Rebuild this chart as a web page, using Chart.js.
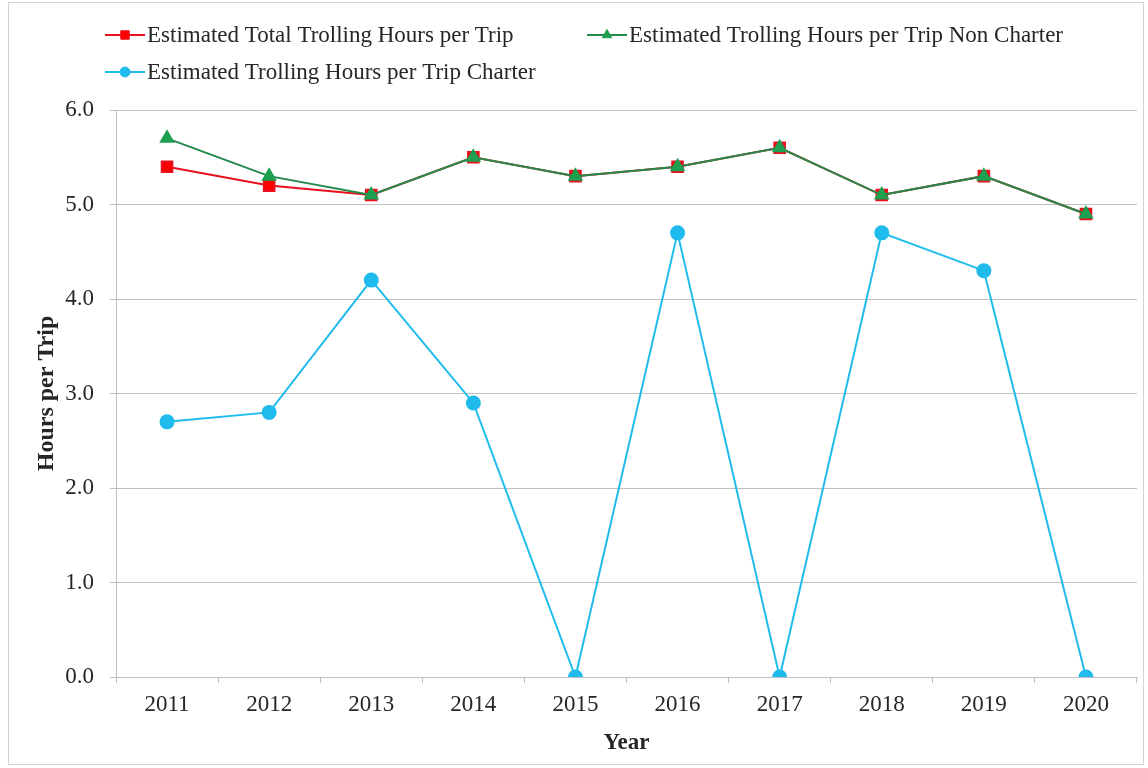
<!DOCTYPE html>
<html>
<head>
<meta charset="utf-8">
<script src="https://cdn.jsdelivr.net/npm/chart.js@4.4.1/dist/chart.umd.min.js"></script>
<style>
    html, body { margin: 0; padding: 0; background: #ffffff; }
    #chart { display: block; }
</style>
</head>
<body>
<canvas id="chart" width="1148" height="768"></canvas>
<script>
// values
const years = ['2011', '2012', '2013', '2014', '2015', '2016', '2017', '2018', '2019', '2020'];
const totalHours = [5.4, 5.2, 5.1, 5.5, 5.3, 5.4, 5.6, 5.1, 5.3, 4.9];
const nonCharterHours = [5.7, 5.3, 5.1, 5.5, 5.3, 5.4, 5.6, 5.1, 5.3, 4.9];
const charterHours = [2.7, 2.8, 4.2, 2.9, 0.0, 4.7, 0.0, 4.7, 4.3, 0.0];

const seriesNames = [
    'Estimated Total Trolling Hours per Trip',
    'Estimated Trolling Hours per Trip Non Charter',
    'Estimated Trolling Hours per Trip Charter'
];

const FONT = '"Liberation Serif", "Times New Roman", serif';

// legend laid out like the original: two columns, second row under the first item
const legendSpots = [
    { x: 105, y: 35 },
    { x: 587, y: 35 },
    { x: 105, y: 72 }
];

const legendAndFrame = {
    id: 'legendAndFrame',
    afterDraw(chart) {
        const ctx = chart.ctx;
        ctx.save();
        ctx.strokeStyle = '#d4d4d4';
        ctx.lineWidth = 1;
        ctx.strokeRect(8.5, 2.5, 1135, 762);

        chart.data.datasets.forEach((ds, i) => {
            const spot = legendSpots[i];
            ctx.strokeStyle = ds.borderColor;
            ctx.lineWidth = 2;
            ctx.beginPath();
            ctx.moveTo(spot.x, spot.y);
            ctx.lineTo(spot.x + 40, spot.y);
            ctx.stroke();
            ctx.fillStyle = ds.pointBackgroundColor;
            ctx.strokeStyle = ds.pointBorderColor;
            ctx.lineWidth = 1;
            Chart.helpers.drawPoint(ctx, {
                pointStyle: ds.pointStyle,
                radius: ds.pointRadius - 1.5,
                rotation: 0,
                borderWidth: 1
            }, spot.x + 20, spot.y);
            ctx.fillStyle = '#262626';
            ctx.font = '23px ' + FONT;
            ctx.textBaseline = 'middle';
            ctx.textAlign = 'left';
            ctx.fillText(ds.label, spot.x + 42, spot.y + 1);
        });
        ctx.restore();
    }
};

new Chart(document.getElementById('chart'), {
    type: 'line',
    data: {
        labels: years,
        datasets: [
            {
                label: seriesNames[0],
                data: totalHours,
                borderColor: '#e8101e',
                backgroundColor: '#ff0000',
                pointBackgroundColor: '#ff0000',
                pointBorderColor: '#e8101e',
                pointStyle: 'rect',
                pointRadius: 7.5,
                borderWidth: 2,
                order: 2
            },
            {
                label: seriesNames[1],
                data: nonCharterHours,
                borderColor: '#24894a',
                backgroundColor: '#1ea050',
                pointBackgroundColor: '#1ea050',
                pointBorderColor: '#1e9e50',
                pointStyle: 'triangle',
                pointRadius: 7,
                borderWidth: 2,
                order: 1
            },
            {
                label: seriesNames[2],
                data: charterHours,
                borderColor: '#1ebbec',
                backgroundColor: '#1ebbec',
                pointBackgroundColor: '#1ebbec',
                pointBorderColor: '#1ebbec',
                pointStyle: 'circle',
                pointRadius: 6.5,
                borderWidth: 2,
                order: 0
            }
        ]
    },
    options: {
        responsive: false,
        animation: false,
        devicePixelRatio: 1,
        layout: { padding: { left: 0, right: 11, top: 110, bottom: 11 } },
        plugins: {
            legend: { display: false },
            tooltip: { enabled: false }
        },
        elements: { line: { tension: 0 } },
        scales: {
            x: {
                offset: true,
                grid: {
                    offset: true,
                    drawOnChartArea: false,
                    color: '#c0c0c0',
                    tickLength: 6
                },
                border: { color: '#c0c0c0', width: 1 },
                ticks: {
                    color: '#262626',
                    font: { family: FONT, size: 23 },
                    padding: 8
                },
                title: {
                    display: true,
                    text: 'Year',
                    color: '#262626',
                    font: { family: FONT, size: 23, weight: 'bold' },
                    padding: { top: 0, bottom: 0 }
                },
                afterFit(scale) { scale.height = 80; }
            },
            y: {
                min: 0,
                max: 6,
                ticks: {
                    stepSize: 1,
                    color: '#262626',
                    font: { family: FONT, size: 23 },
                    padding: 16,
                    callback: (v) => v.toFixed(1)
                },
                grid: {
                    color: '#c0c0c0',
                    tickLength: 6
                },
                border: { color: '#c0c0c0', width: 1 },
                title: {
                    display: true,
                    text: 'Hours per Trip',
                    color: '#262626',
                    font: { family: FONT, size: 24, weight: 'bold' },
                    padding: { top: 32, bottom: 0 }
                },
                afterFit(scale) { scale.width = 116; }
            }
        }
    },
    plugins: [legendAndFrame]
});
</script>
</body>
</html>
